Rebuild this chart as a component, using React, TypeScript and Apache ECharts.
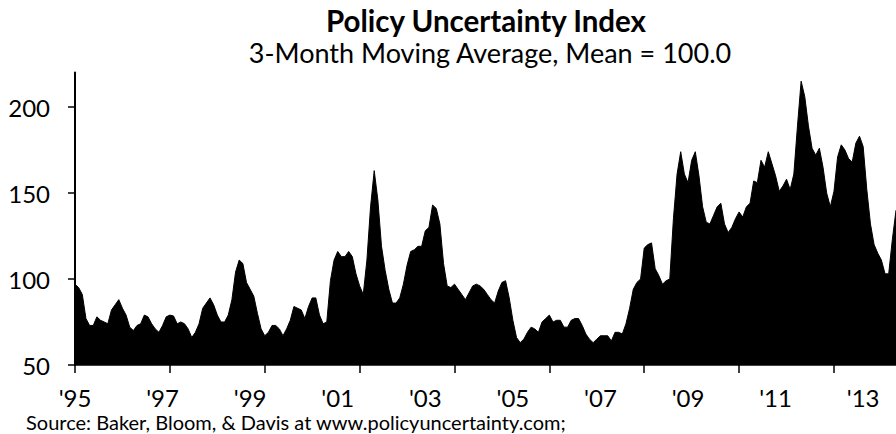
import React, { useEffect, useRef } from "react";
import * as echarts from "echarts";

const TITLE = "Policy Uncertainty Index";
const SUBTITLE = "3-Month Moving Average, Mean = 100.0";
const SOURCE = "Source: Baker, Bloom, & Davis at www.policyuncertainty.com;";

const START_YEAR = 1995;

// Monthly 3-month moving average, Jan 1995 onward
const VALUES_1995_2001 = [
  97, 95, 91, 77, 73, 73, 78, 76, 75, 74, 82, 85,
  88, 83, 79, 72, 70, 73, 74, 79, 78, 74, 71, 69,
  73, 78, 79, 78.5, 74, 75, 74, 71, 66, 69, 74, 83,
  86, 89, 85, 79, 75, 75, 79, 88, 104, 111, 109, 98,
  94, 90, 80, 71, 67, 69, 73, 73, 71, 67, 71, 76,
  84, 83, 82, 77, 84, 89, 89, 79, 74, 75, 99, 111,
];
const VALUES_2001_2007 = [
  116, 113, 113, 116, 113, 103, 96, 91, 111, 142, 163, 146,
  119, 105, 94, 86, 86, 89, 97, 108, 116, 117, 119, 119,
  128, 130, 143, 141, 132, 109, 96, 95, 97, 94, 91, 88,
  92, 96, 97, 96, 94, 91, 88, 86, 93, 98, 99, 89,
  76, 66, 63, 65, 69, 72, 71, 69, 75, 77, 79, 75,
  76, 76, 72, 72, 76, 77, 77, 73, 68, 65, 63, 65,
];
const VALUES_2007_2013 = [
  67, 67, 67, 64, 69, 69, 68, 74, 83, 94, 98, 100,
  118, 120, 121, 106, 102, 97, 99, 100, 135, 161, 174, 161,
  156, 169, 174, 160, 142, 133, 132, 137, 142, 144, 132, 127,
  130, 135, 139, 136, 142, 144, 157, 156, 169, 165, 174, 167,
  160, 151, 154, 158, 152, 161, 189, 215, 206, 189, 176, 172,
  176, 165, 150, 142, 151, 171, 178, 175, 170, 168, 179, 183,
  177, 152, 132, 120, 115, 111, 103, 103, 123, 140,
];
const VALUES = [...VALUES_1995_2001, ...VALUES_2001_2007, ...VALUES_2007_2013];

const Y_TICKS = [50, 100, 150, 200];
const Y_MIN = 50;
const Y_MAX = 220;
const LABEL_EVERY = 24; // months
const TICK_EVERY = 26; // months

const MONTHS = VALUES.map((_, i) => {
  const y = START_YEAR + Math.floor(i / 12);
  const m = (i % 12) + 1;
  return `${y}-${m < 10 ? "0" + m : m}`;
});

const FONT = "Lato, 'Open Sans', sans-serif";

export default function App() {
  const ref = useRef<HTMLDivElement>(null);
  useEffect(() => {
    if (!ref.current) return;
    const chart = echarts.init(ref.current, null, { renderer: "svg" });
    chart.setOption({
      animation: false,
      backgroundColor: "#ffffff",
      grid: { left: 75, right: 0, top: 72.6, bottom: 69, containLabel: false },
      graphic: [
        {
          type: "text",
          x: 486,
          y: 20,
          style: {
            text: TITLE,
            fontFamily: FONT,
            fontWeight: "bold",
            fontSize: 29.5,
            fill: "#000",
            textAlign: "center",
            textVerticalAlign: "middle",
          },
        },
        {
          type: "text",
          x: 490,
          y: 52,
          style: {
            text: SUBTITLE,
            fontFamily: FONT,
            fontSize: 27,
            fill: "#000",
            textAlign: "center",
            textVerticalAlign: "middle",
          },
        },
        {
          type: "text",
          x: 26,
          y: 422,
          style: {
            text: SOURCE,
            fontFamily: FONT,
            fontSize: 20,
            fill: "#000",
            textAlign: "left",
            textVerticalAlign: "middle",
          },
        },
      ],
      xAxis: {
        type: "category",
        data: MONTHS,
        boundaryGap: false,
        axisLine: { show: true, lineStyle: { color: "#000", width: 1.5 } },
        axisTick: {
          show: true,
          interval: (idx: number) => idx % TICK_EVERY === 0,
          length: 8,
          lineStyle: { color: "#000", width: 1.5 },
        },
        axisLabel: {
          interval: (idx: number) => idx % LABEL_EVERY === 0,
          formatter: (v: string) => "'" + v.slice(2, 4),
          fontFamily: FONT,
          fontSize: 24,
          color: "#000",
          margin: 20,
        },
        splitLine: { show: false },
      },
      yAxis: {
        type: "value",
        min: Y_MIN,
        max: Y_MAX,
        interval: 50,
        axisLine: { show: true, lineStyle: { color: "#000", width: 2 } },
        axisTick: {
          show: true,
          length: 7,
          customValues: Y_TICKS,
          lineStyle: { color: "#000", width: 1.5 },
        },
        axisLabel: {
          customValues: Y_TICKS,
          fontFamily: FONT,
          fontSize: 24,
          color: "#000",
          margin: 25,
        },
        splitLine: { show: false },
      },
      series: [
        {
          type: "line",
          data: VALUES,
          symbol: "none",
          smooth: false,
          lineStyle: { color: "#000", width: 1 },
          areaStyle: { color: "#000", opacity: 1, origin: "start" },
          z: 1,
        },
      ],
    });
    return () => chart.dispose();
  }, []);
  return (
    <div
      ref={ref}
      style={{ position: "fixed", left: 0, top: 0, width: 896, height: 434 }}
    />
  );
}
